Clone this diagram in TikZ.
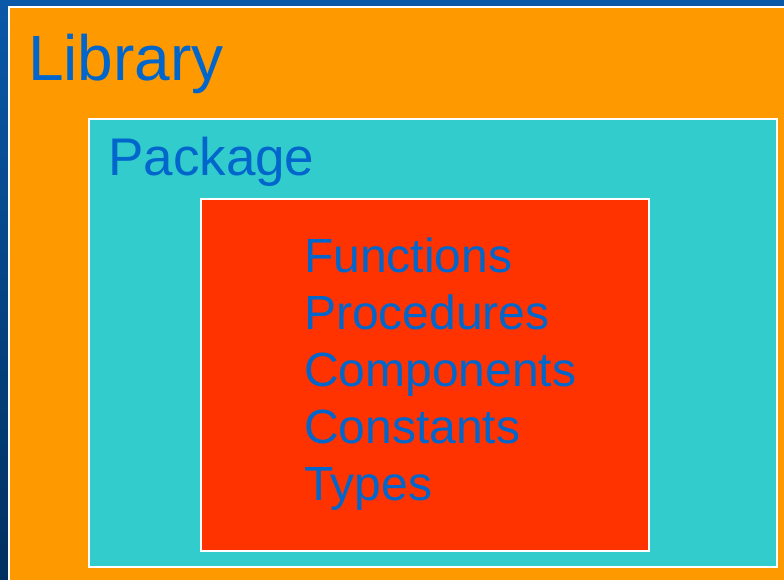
\documentclass[tikz,border=0pt]{standalone}
\usepackage{fontspec}
\setmainfont{Liberation Sans}
\definecolor{bgtop}{HTML}{0A58A8}
\definecolor{bgbot}{HTML}{013060}
\definecolor{liborange}{HTML}{FF9900}
\definecolor{pkgteal}{HTML}{33CCCC}
\definecolor{innerred}{HTML}{FF3300}
\definecolor{txtblue}{HTML}{0066CC}
\begin{document}
\begin{tikzpicture}[x=1pt,y=1pt,
  box/.style={draw=white,line width=2pt,inner sep=0pt},
  lbl/.style={anchor=base west,inner sep=0pt,text=txtblue},
  item/.style={lbl,font=\fontsize{48}{57}\selectfont}]
\useasboundingbox (0,0) rectangle (784,580);
\begin{scope}
\clip (0,0) rectangle (784,580);
\shade[top color=bgtop,bottom color=bgbot] (0,0) rectangle (784,580);
\node[box,fill=liborange,minimum width=800pt,minimum height=600pt,anchor=north west] (lib) at (8,574) {};
\end{scope}
\node[box,fill=pkgteal,minimum width=688pt,minimum height=448pt] (pkg) at (433,237) {};
\node[box,fill=innerred,minimum width=448pt,minimum height=352pt] (obj) at (425,205) {};
\node[lbl,font=\fontsize{64}{70}\selectfont] (libtxt) at (28,499) {Library};
\node[lbl,font=\fontsize{53}{60}\selectfont] (pkgtxt) at (108,404) {Package};
\node[item] (f1) at (304,307) {Functions};
\node[item] (f2) at (304,250) {Procedures};
\node[item] (f3) at (304,193) {Components};
\node[item] (f4) at (304,136) {Constants};
\node[item] (f5) at (304,79) {Types};
\end{tikzpicture}
\end{document}
